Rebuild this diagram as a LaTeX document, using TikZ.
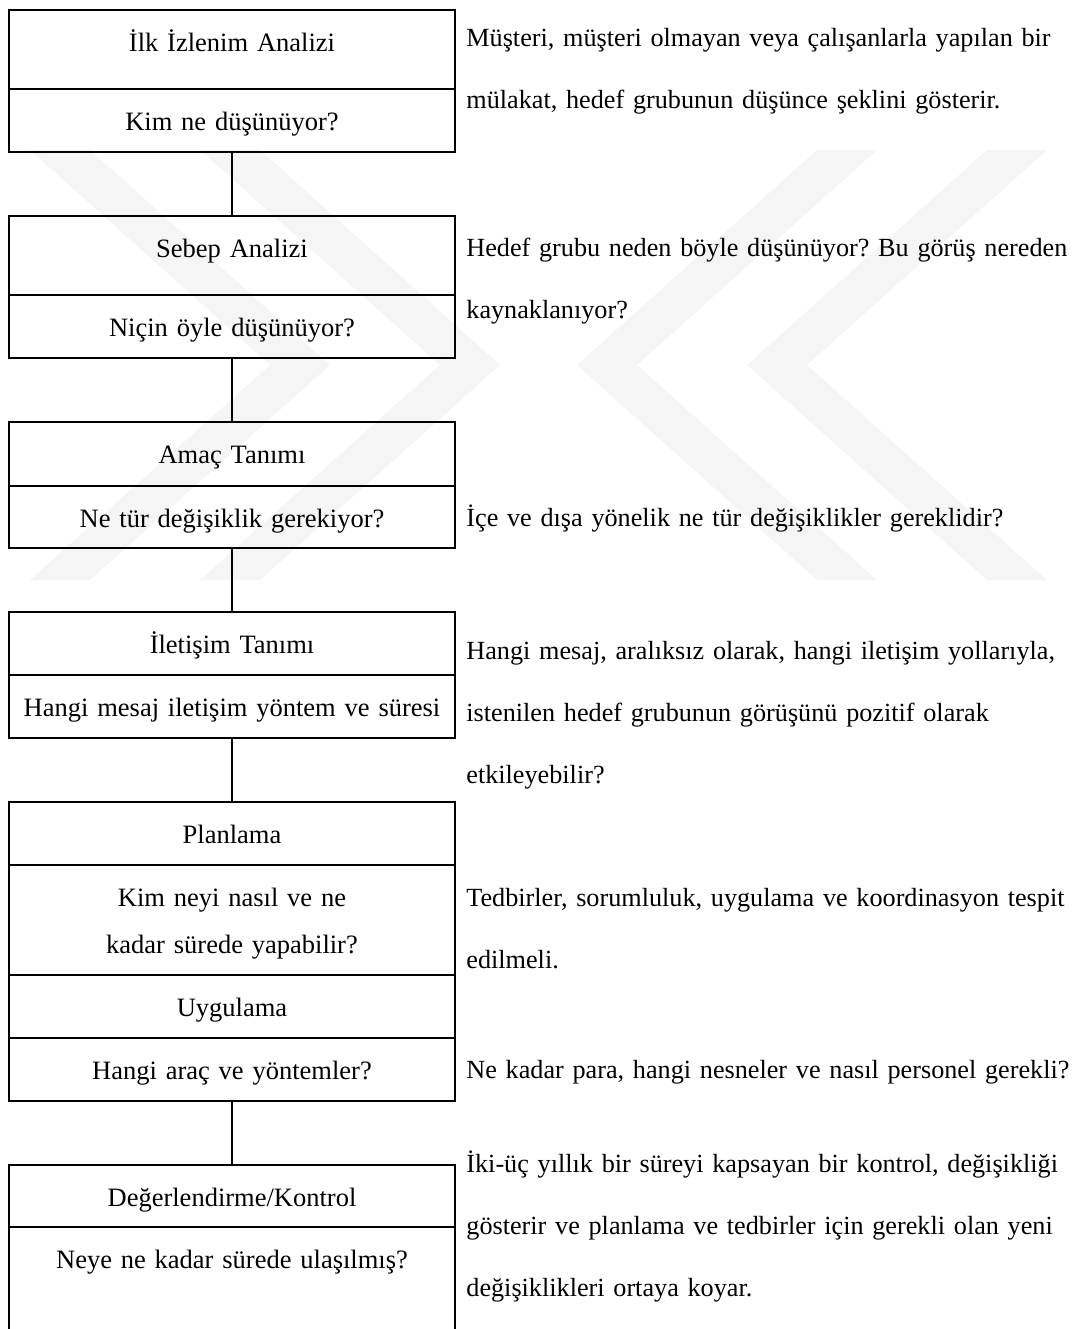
\documentclass[tikz,border=0pt]{standalone}
\usepackage{fontspec}
\setmainfont{Liberation Serif}
\usetikzlibrary{positioning}
\frenchspacing

\begin{document}
\begin{tikzpicture}[x=0.5pt,y=-0.5pt,node distance=32pt,
  stage/.style={rectangle,draw=black,line width=1pt,outer sep=0pt,inner sep=0pt,
                text width=223pt,align=center,text height=20.5pt,text depth=#1,
                font=\fontsize{13.25pt}{23.5pt}\selectfont},
  note/.style={anchor=base west,inner sep=0pt,text width=400pt,align=left,
               font=\fontsize{13.1pt}{31pt}\selectfont},
  line/.style={draw,line width=1pt},
  wmark/.style={fill=black!4}]
\useasboundingbox (0,0) rectangle (1077,1329);
\clip (0,0) rectangle (1077,1329);
% faint watermark behind the chart
\foreach \dx in {0,170} {
  \fill[wmark] ({30+\dx},150) -- ({90+\dx},150) -- ({330+\dx},365) -- ({90+\dx},580) -- ({30+\dx},580) -- ({270+\dx},365) -- cycle;
  \fill[wmark] ({1047-\dx},150) -- ({987-\dx},150) -- ({747-\dx},365) -- ({987-\dx},580) -- ({1047-\dx},580) -- ({807-\dx},365) -- cycle;
}
% left column: stages
\node[stage=19pt,anchor=north] (ilk) at (232,10) {İlk İzlenim Analizi};
\node[stage=11pt,below=0pt of ilk]      (ilkq)   {Kim ne düşünüyor?};
\node[stage=19pt,below=of ilkq]         (sebep)  {Sebep Analizi};
\node[stage=11pt,below=0pt of sebep]    (sebepq) {Niçin öyle düşünüyor?};
\node[stage=11.5pt,below=of sebepq]     (amac)   {Amaç Tanımı};
\node[stage=10.5pt,below=0pt of amac]   (amacq)  {Ne tür değişiklik gerekiyor?};
\node[stage=11pt,below=of amacq]        (ilet)   {İletişim Tanımı};
\node[stage=11pt,below=0pt of ilet]     (iletq)  {Hangi mesaj iletişim yöntem ve süresi};
\node[stage=11pt,below=of iletq]        (plan)   {Planlama};
\node[stage=34.5pt,below=0pt of plan]   (planq)  {Kim neyi nasıl ve ne\\kadar sürede yapabilir?};
\node[stage=11pt,below=0pt of planq]    (uyg)    {Uygulama};
\node[stage=11pt,below=0pt of uyg]      (uygq)   {Hangi araç ve yöntemler?};
\node[stage=10.5pt,below=of uygq]       (deger)  {Değerlendirme/Kontrol};
\node[stage=49.5pt,below=0pt of deger]  (degerq) {Neye ne kadar sürede ulaşılmış?};
\path[line] (ilkq)   -- (sebep);
\path[line] (sebepq) -- (amac);
\path[line] (amacq)  -- (ilet);
\path[line] (iletq)  -- (plan);
\path[line] (uygq)   -- (deger);
% right column: explanations
\node[note] (n1) at (466,46)   {Müşteri, müşteri olmayan veya çalışanlarla yapılan bir\\mülakat, hedef grubunun düşünce şeklini gösterir.};
\node[note] (n2) at (466,256)  {Hedef grubu neden böyle düşünüyor? Bu görüş nereden\\kaynaklanıyor?};
\node[note] (n3) at (466,526)  {İçe ve dışa yönelik ne tür değişiklikler gereklidir?};
\node[note] (n4) at (466,659)  {Hangi mesaj, aralıksız olarak, hangi iletişim yollarıyla,\\istenilen hedef grubunun görüşünü pozitif olarak\\etkileyebilir?};
\node[note] (n5) at (466,906)  {Tedbirler, sorumluluk, uygulama ve koordinasyon tespit\\edilmeli.};
\node[note] (n6) at (466,1078) {Ne kadar para, hangi nesneler ve nasıl personel gerekli?};
\node[note] (n7) at (466,1172) {İki-üç yıllık bir süreyi kapsayan bir kontrol, değişikliği\\gösterir ve planlama ve tedbirler için gerekli olan yeni\\değişiklikleri ortaya koyar.};
\end{tikzpicture}
\end{document}
